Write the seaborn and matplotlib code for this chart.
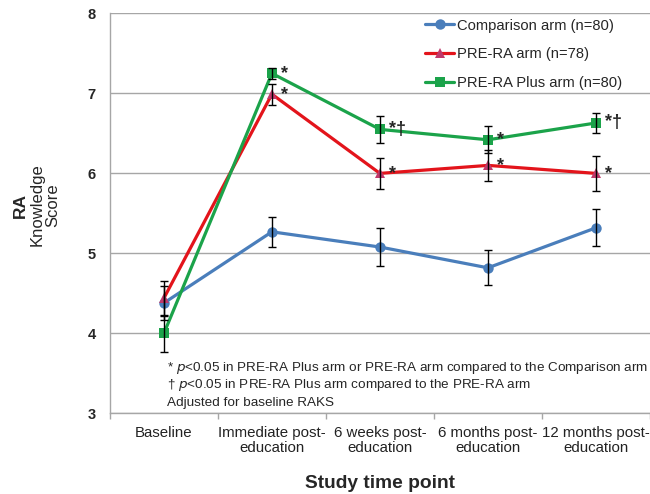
"""RA knowledge score by study time point for the three trial arms."""
import matplotlib

matplotlib.use("Agg")
import matplotlib.pyplot as plt
import pandas as pd
import seaborn as sns

timepoints = ["Baseline", "Immediate post-\neducation", "6 weeks post-\neducation",
              "6 months post-\neducation", "12 months post-\neducation"]
arms = ["Comparison arm (n=80)", "PRE-RA arm (n=78)", "PRE-RA Plus arm (n=80)"]
comparison = [4.38, 5.27, 5.08, 4.82, 5.32]
comparison_err = [0.21, 0.19, 0.24, 0.22, 0.23]
pre_ra = [4.44, 6.99, 6.00, 6.10, 6.00]
pre_ra_err = [0.22, 0.13, 0.19, 0.19, 0.22]
pre_ra_plus = [4.00, 7.25, 6.55, 6.42, 6.63]
pre_ra_plus_err = [0.23, 0.07, 0.17, 0.17, 0.13]
# significance marks per arm and time point
marks_red = ["", "*", "*", "*", "*"]
marks_green = ["", "*", "*\u2020", "*", "*\u2020"]

colors = {arms[0]: "#4A7EBB", arms[1]: "#E3141B", arms[2]: "#1BA34A"}
marker_colors = {arms[0]: "#4A7EBB", arms[1]: "#C0396B", arms[2]: "#1BA34A"}
markers = {arms[0]: "o", arms[1]: "^", arms[2]: "s"}

df = pd.concat([
    pd.DataFrame({"time": timepoints, "score": vals, "err": errs, "arm": arm})
    for arm, vals, errs in zip(arms, [comparison, pre_ra, pre_ra_plus],
                               [comparison_err, pre_ra_err, pre_ra_plus_err])
], ignore_index=True)

sns.set_theme(style="white")
plt.rcParams["font.family"] = ["Liberation Sans", "DejaVu Sans"]

fig = plt.figure(figsize=(6.5, 4.94), dpi=100)
ax = fig.add_axes([0.169, 0.163, 0.831, 0.81])

ax.yaxis.grid(True, color="#A6A6A6", lw=1)
ax.set_axisbelow(True)

sns.lineplot(data=df, x="time", y="score", hue="arm", style="arm", palette=colors,
             markers=markers, dashes=False, lw=2.3, markersize=7.5, sort=False, ax=ax,
             markeredgewidth=0)

for arm in arms:
    sub = df[df["arm"] == arm]
    ax.errorbar(range(len(sub)), sub["score"], yerr=sub["err"], fmt="none",
                ecolor="black", elinewidth=1, capsize=3, capthick=1, zorder=4)

# marker faces in Excel style
for line, arm in zip(ax.lines[:3], arms):
    line.set_markerfacecolor(marker_colors[arm])
    line.set_markeredgecolor(marker_colors[arm])

for marks, vals in [(marks_red, pre_ra), (marks_green, pre_ra_plus)]:
    for i, (m, v) in enumerate(zip(marks, vals)):
        if m:
            ax.text(i + 0.08, v, m, fontsize=13, fontweight="bold", va="center", ha="left")

ax.set_xlim(-0.5, 4.5)
ax.set_ylim(3, 8)
ax.set_yticks([3, 4, 5, 6, 7, 8])
ax.set_xticks(range(5))
ax.set_xticklabels(timepoints, fontsize=10.8, linespacing=1.1)
ax.set_xticks([i - 0.5 for i in range(6)], minor=True)
ax.tick_params(axis="x", which="major", length=0, pad=9, colors="#222222")
ax.tick_params(axis="x", which="minor", length=4, color="#A6A6A6", direction="out")
ax.tick_params(axis="y", length=4, color="#A6A6A6", direction="out", pad=6)
ax.tick_params(axis="x", which="both", bottom=True)
for t in ax.get_yticklabels():
    t.set_fontweight("bold")
    t.set_fontsize(10.5)

for s in ["top", "right"]:
    ax.spines[s].set_visible(False)
for s in ["left", "bottom"]:
    ax.spines[s].set_color("#A6A6A6")
    ax.spines[s].set_linewidth(1)

ax.set_xlabel("Study time point", fontsize=13.8, fontweight="bold", labelpad=14)
ax.set_ylabel("")
fig.text(20 / 650, 1 - 205 / 494, "RA", rotation=90, fontsize=12.5, fontweight="bold",
         va="center", ha="center")
fig.text(37 / 650, 1 - 205 / 494, "Knowledge", rotation=90, fontsize=12, va="center", ha="center")
fig.text(53 / 650, 1 - 205 / 494, "Score", rotation=90, fontsize=12, va="center", ha="center")

note_kw = dict(fontsize=9.7, va="center", ha="left")
ax.text(0.03, 3.57, "* $p$<0.05 in PRE-RA Plus arm or PRE-RA arm compared to the Comparison arm",
        **note_kw)
ax.text(0.03, 3.35, "\u2020 $p$<0.05 in PRE-RA Plus arm compared to the PRE-RA arm", **note_kw)
ax.text(0.03, 3.13, "Adjusted for baseline RAKS", **note_kw)

leg = ax.legend(loc="upper right", bbox_to_anchor=(0.972, 1.02), frameon=False, fontsize=10.6,
                handlelength=2.0, handletextpad=0.15, labelspacing=1.0)
for h, arm in zip(leg.legend_handles, arms):
    h.set_markerfacecolor(marker_colors[arm])
    h.set_markeredgecolor(marker_colors[arm])

fig.savefig("out.png", dpi=100)
plt.close(fig)
